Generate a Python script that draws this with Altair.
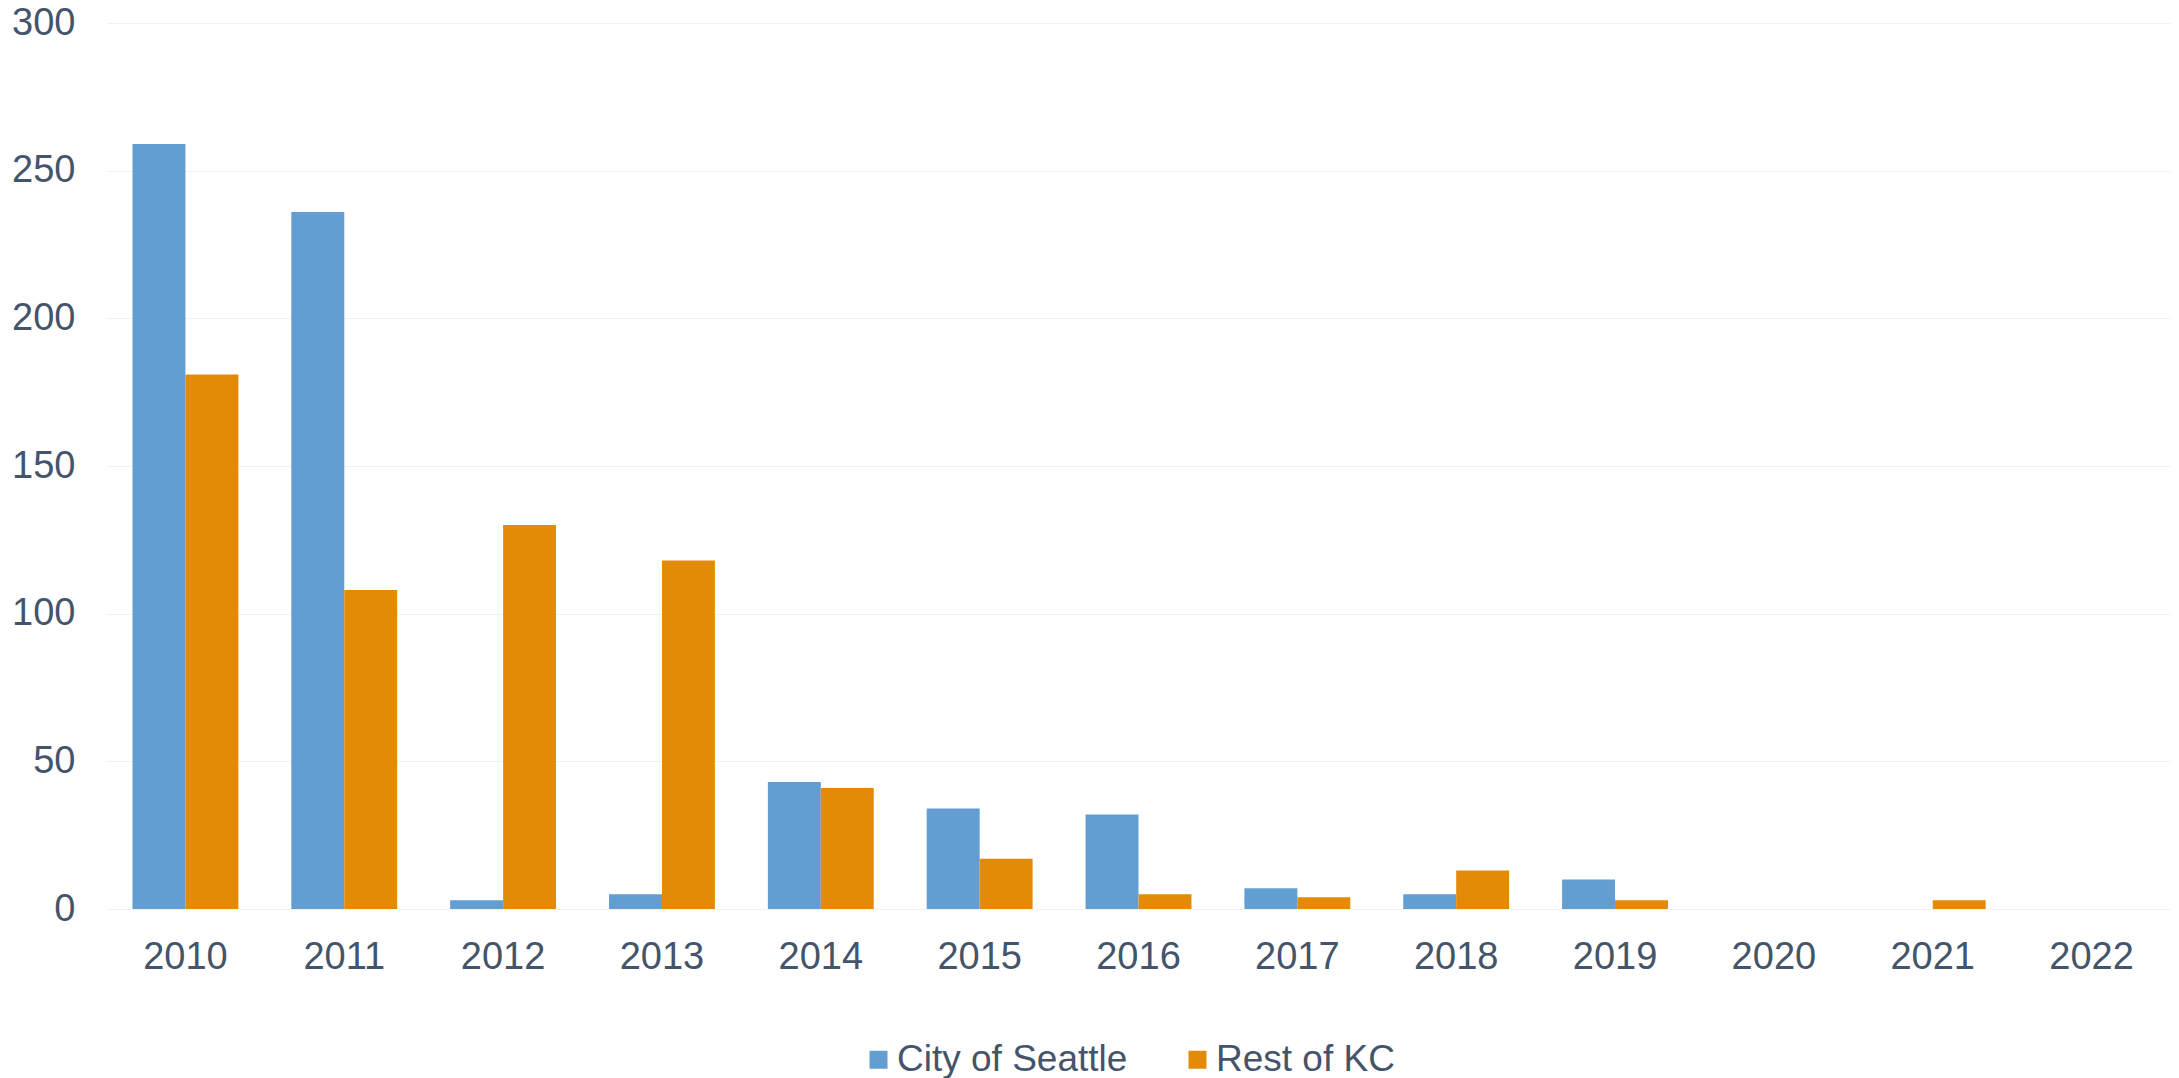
import altair as alt
import pandas as pd

years = ["2010", "2011", "2012", "2013", "2014", "2015", "2016",
         "2017", "2018", "2019", "2020", "2021", "2022"]
seattle = [259, 236, 3, 5, 43, 34, 32, 7, 5, 10, 0, 0, 0]
rest_kc = [181, 108, 130, 118, 41, 17, 5, 4, 13, 3, 0, 3, 0]
series = ["City of Seattle", "Rest of KC"]
y_ticks = [0, 50, 100, 150, 200, 250, 300]
colors = ["#629ED2", "#E38B07"]

rows = []
for i, yr in enumerate(years):
    rows.append({"Year": yr, "Series": series[0], "Value": seattle[i]})
    rows.append({"Year": yr, "Series": series[1], "Value": rest_kc[i]})
df = pd.DataFrame(rows)

TEXT = "#44546A"
FONT = "Liberation Sans"

chart = alt.Chart(df).mark_bar().encode(
    x=alt.X(
        "Year:N",
        sort=years,
        scale=alt.Scale(paddingInner=0.3333, paddingOuter=0.1667),
        axis=alt.Axis(title=None, labelAngle=0, ticks=False, domain=False, grid=False,
                      labelPadding=29, labelFontSize=38, labelColor=TEXT, labelFont=FONT),
    ),
    xOffset=alt.XOffset("Series:N", sort=series,
                        scale=alt.Scale(paddingInner=0, paddingOuter=0)),
    y=alt.Y(
        "Value:Q",
        scale=alt.Scale(domain=[0, 300], nice=False),
        axis=alt.Axis(values=y_ticks, title=None, ticks=False, domain=False,
                      gridColor="#F2F2F2", gridWidth=1, labelPadding=31,
                      labelFontSize=38, labelColor=TEXT, labelFont=FONT),
    ),
    color=alt.Color(
        "Series:N",
        sort=series,
        scale=alt.Scale(domain=series, range=colors),
        legend=alt.Legend(title=None, orient="none", direction="horizontal",
                          legendX=754, legendY=1018, padding=0,
                          symbolType="square", symbolSize=324, symbolStrokeWidth=0,
                          labelFontSize=37, labelColor=TEXT, labelFont=FONT,
                          labelLimit=0, labelOffset=0, columnPadding=51),
    ),
).properties(
    width=2065,
    height=886,
    autosize=alt.AutoSizeParams(type="none"),
    padding={"left": 98, "top": 15, "right": 0, "bottom": 170},
).configure_view(stroke=None)

chart.save("out.html", embed_options={"renderer": "svg", "actions": False})
